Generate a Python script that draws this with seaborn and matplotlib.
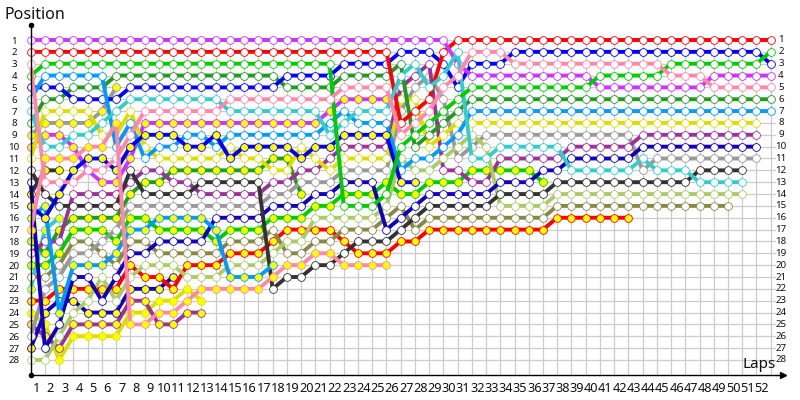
import matplotlib
matplotlib.use('Agg')
import matplotlib.pyplot as plt
import pandas as pd
import seaborn as sns

# running order per lap, first value is the grid slot (column 0)
violet = [1, 1, 1, 1, 1, 1, 1, 1, 1, 1, 1, 1, 1, 1, 1, 1, 1, 1, 1, 1, 1, 1, 1, 1, 1, 1, 1, 1, 1, 1, 3,
          4, 4, 4, 4, 4, 4, 4, 4, 4, 5, 5, 5, 5, 5, 5, 5, 5, 4, 4, 4, 4, 4]
red = [2, 2, 2, 2, 2, 2, 2, 2, 2, 2, 2, 2, 2, 2, 2, 2, 2, 2, 2, 2, 2, 2, 2, 2, 2, 2, 8, 7, 6, 2,
       1, 1, 1, 1, 1, 1, 1, 1, 1, 1, 1, 1, 1, 1, 1, 1, 1, 1, 1, 1, 1, 1, 1]
green = [4, 3, 3, 3, 3, 3, 3, 3, 3, 3, 3, 3, 3, 3, 3, 3, 3, 3, 3, 3, 3, 3, 15, 15, 15, 14, 10, 9, 8, 7, 6,
         5, 5, 5, 5, 5, 5, 5, 5, 5, 4, 4, 4, 4, 4, 3, 3, 3, 3, 3, 3, 3, 2]
pink = [3, 13, 13, 13, 12, 12, 11, 9, 7, 7, 7, 7, 7, 7, 6, 6, 6, 6, 6, 6, 6, 6, 5, 5, 5, 5, 9, 8, 7, 5, 4,
        2, 2, 2, 3, 3, 3, 3, 3, 3, 3, 3, 3, 3, 3, 4, 4, 4, 5, 5, 5, 5, 5]
blue = [5, 5, 5, 6, 6, 6, 6, 5, 5, 5, 5, 5, 5, 5, 5, 5, 5, 5, 4, 4, 4, 4, 3, 3, 3, 3, 2, 2, 2, 3, 5,
        3, 3, 3, 2, 2, 2, 2, 2, 2, 2, 2, 2, 2, 2, 2, 2, 2, 2, 2, 2, 2, 3]
azure = [6, 4, 4, 4, 4, 4, 10, 8, 11, 10, 10, 9, 9, 10, 9, 9, 9, 9, 9, 9, 9, 8, 7, 8, 8, 8, 12, 11, 11, 10, 9,
         7, 7, 7, 7, 7, 7, 7, 7, 7, 7, 7, 7, 7, 7, 7, 7, 7, 7, 7, 7, 7, 7]
cyan = [7, 10, 10, 9, 9, 8, 7, 6, 6, 6, 6, 6, 6, 6, 7, 7, 7, 7, 7, 7, 7, 9, 8, 7, 7, 7, 4, 3, 5, 4, 2,
        11, 11, 10, 10, 10, 10, 10, 12, 12, 12, 12, 12, 11, 12, 12, 12, 13, 13, 13, 13]
dark_green = [8, 6, 6, 5, 5, 5, 4, 4, 4, 4, 4, 4, 4, 4, 4, 4, 4, 4, 5, 5, 5, 5, 4, 4, 4, 4, 3, 10, 9, 8, 7,
              6, 6, 6, 6, 6, 6, 6, 6, 6, 6, 6, 6, 6, 6, 6, 6, 6, 6, 6, 6, 6, 6]
yellow = [11, 7, 7, 7, 7, 9, 9, 7, 10, 11, 11, 11, 11, 11, 10, 11, 11, 12, 12, 10, 11, 12, 11, 11, 11, 11, 6, 6, 10, 9,
          8, 8, 8, 8, 8, 8, 8, 8, 8, 8, 8, 8, 8, 8, 8, 8, 8, 8, 8, 8, 8, 8]
gray = [26, 22, 21, 19, 19, 18, 17, 15, 15, 15, 15, 15, 15, 15, 15, 15, 15, 14, 14, 13, 13, 13, 12, 12, 12, 12, 7, 5, 4, 6, 11, 10,
        9, 9, 9, 9, 9, 9, 9, 9, 9, 9, 9, 12, 11, 11, 11, 11, 11, 11, 11, 11]
purple = [19, 18, 18, 14, 14, 14, 14, 13, 12, 12, 13, 13, 14, 14, 14, 14, 14, 13, 13, 12, 12, 11, 10, 10, 10, 10, 5, 4, 3, 12, 12,
          13, 13, 11, 11, 11, 11, 11, 10, 10, 10, 10, 10, 9, 9, 9, 9, 9, 9, 9, 9, 9]
dark_blue = [13, 27, 25, 21, 21, 23, 21, 19, 19, 18, 18, 18, 18, 16, 16, 16, 16, 15, 15, 15, 14, 14, 13, 13, 13, 17, 16, 15,
             14, 14, 14, 14, 14, 13, 13, 13, 12, 12, 11, 11, 11, 11, 11, 10, 10, 10, 10, 10, 10, 10, 10, 10]
black = [12, 14, 15, 15, 15, 15, 15, 12, 14, 14, 14, 14, 13, 13, 13, 13, 13, 22, 21, 21, 20, 20, 19, 18, 18, 18, 17, 16,
         15, 15, 15, 15, 15, 14, 14, 14, 14, 13, 13, 13, 13, 13, 13, 13, 13, 13, 13, 12, 12, 12, 12]
light_olive = [28, 28, 26, 24, 23, 21, 23, 21, 20, 20, 20, 21, 21, 21, 20, 20, 20, 19, 18, 18, 16, 16, 16, 16, 16, 15, 11, 12, 12, 11, 10, 9, 10,
               15, 15, 15, 15, 14, 14, 14, 14, 14, 14, 14, 14, 14, 14, 14, 14, 14, 14]
olive = [21, 21, 20, 18, 18, 19, 20, 18, 18, 19, 19, 19, 19, 19, 18, 18, 18, 17, 19, 19, 18, 18, 17, 17, 17, 16, 15, 17,
         16, 16, 16, 16, 16, 16, 16, 16, 16, 15, 15, 15, 15, 15, 15, 15, 15, 15, 15, 15, 15, 15]

# same colours again, but the ones drawn with yellow dots
gray_y = [9, 8, 8, 8, 8, 7, 5]
violet_y = [10, 9, 9, 10, 12, 13, 13, 11, 8, 8, 8, 8, 8, 8, 8, 8, 8, 8, 8, 8, 8, 7, 6, 6, 6, 6]
black_y = [14, 12, 12]
blue_y = [15, 16, 14, 12, 11, 11, 12, 10, 9, 9, 9, 10, 10, 9, 11, 10, 10, 10, 10, 11, 10, 10, 9, 9, 9, 9, 13, 13]
azure_y = [16, 15, 24, 20, 20, 20, 19, 17, 17, 16, 16, 16, 16, 17, 21, 21, 21, 20]
pink_y = [17, 11, 11, 11, 10, 10, 8, 25, 25, 24, 24, 23, 22, 22, 22, 22, 22, 21, 20, 20, 19, 19, 20, 20, 20, 20]
dark_green_y = [18, 19, 17, 16, 16, 16, 16, 14, 13, 13, 12, 12, 12, 12, 12, 12, 12, 11, 11, 14]
green_y = [20, 20, 19, 17, 17, 17, 18, 16, 16, 17, 17, 17, 17, 18, 17, 17, 17, 16, 16, 16, 15, 15, 14, 14, 14, 13, 14, 14,
           13, 13, 13, 12, 12, 12, 12, 12, 13]
cyan_y = [22, 17, 16]
red_y = [23, 23, 22, 22, 22, 22, 22, 20, 21, 21, 22, 20, 20, 20, 19, 19, 19, 18, 17, 17, 17, 17, 18, 19, 19, 19, 18, 18,
         17, 17, 17, 17, 17, 17, 17, 17, 17, 16, 16, 16, 16, 16, 16]
yellow_y = [24, 25, 28, 26, 26, 26, 26, 24, 24, 23, 23, 22, 23]
purple_y = [25, 26, 27, 25, 25, 25, 25, 23, 23, 25, 25, 24, 24]
dark_blue_y = [27, 24, 23, 23, 24, 24, 24, 22, 22, 22, 21]

# later entries end up on top
series = [
    (yellow_y, '#DDDD00', True), (purple_y, '#993399', True), (dark_blue_y, '#1100BB', True),
    (red_y, '#FF0000', True), (cyan_y, '#33CCCC', True), (green_y, '#00CC00', True),
    (dark_green_y, '#229922', True), (black_y, '#333333', True), (violet_y, '#CC33FF', True),
    (gray_y, '#999999', True), (olive, '#888844', False), (gray, '#999999', False),
    (purple, '#993399', False), (light_olive, '#AACC66', False), (yellow, '#DDDD00', False),
    (dark_green, '#229922', False), (blue, '#0000FF', False),
    (red, '#FF0000', False), (violet, '#CC33FF', False), (dark_blue, '#1100BB', False),
    (black, '#333333', False), (azure, '#0099FF', False), (azure_y, '#0099FF', True),
    (blue_y, '#0000EE', True), (cyan, '#33CCCC', False), (green, '#00CC00', False),
    (pink, '#FF88AA', False), (pink_y, '#FF88AA', True),
]

sns.set_theme(style='white')
plt.rcParams['font.family'] = ['Noto Sans', 'DejaVu Sans']

fig = plt.figure(figsize=(8, 4), dpi=100)
ax = fig.add_axes([30.7 / 800, 25 / 400, (776 - 30.7) / 800, 350 / 400])
ax.set_xlim(0, (776 - 30.7) / 14.23)
ax.set_ylim((375 - 40) / 11.85 + 1, (25 - 40) / 11.85 + 1)

# grid only spans the rows and columns, not the space above row 1
ymax = ax.get_ylim()[0]
xmax = ax.get_xlim()[1]
ax.vlines(range(53), 1, ymax, color='#CCCCCC', linewidth=0.9, zorder=0)
ax.hlines(range(1, 29), 0, xmax, color='#CCCCCC', linewidth=0.9, zorder=0)

for pos, colour, filled in series:
    df = pd.DataFrame({'lap': range(len(pos)), 'pos': pos})
    sns.lineplot(data=df, x='lap', y='pos', color=colour, linewidth=2.8, marker='o', markersize=5.6,
                 markerfacecolor='#FFFF00' if filled else 'white', markeredgecolor=colour,
                 markeredgewidth=0.6, sort=False, errorbar=None, ax=ax, clip_on=False)

ax.set_xlabel('')
ax.set_ylabel('')
ax.set_xticks([k - 1 + 0.39 for k in range(1, 53)])
ax.set_xticklabels([str(k) for k in range(1, 53)], fontsize=9.2, color='#111111')
ax.set_yticks(range(1, 29))
ax.set_yticklabels([str(k) for k in range(1, 29)], fontsize=7, color='#111111', ha='center')
ax.tick_params(axis='x', length=0, pad=5)
ax.tick_params(axis='y', length=0, pad=11.9)

for spine in ['top', 'right']:
    ax.spines[spine].set_visible(False)
for spine in ['left', 'bottom']:
    ax.spines[spine].set_color('black')
    ax.spines[spine].set_linewidth(1.0)

for k in range(1, 29):
    ax.annotate(str(k), (1, k), xycoords=ax.get_yaxis_transform(), xytext=(3.6, 0), textcoords='offset points',
                fontsize=7, color='#111111', ha='center', va='center')

ax.plot([0], [1], marker='o', ms=3, color='black', transform=ax.transAxes, clip_on=False)
ax.plot([0], [0], marker='o', ms=3, color='black', transform=ax.transAxes, clip_on=False)
ax.plot([1.01], [0], marker='>', ms=5, color='black', transform=ax.transAxes, clip_on=False)
ax.plot([1, 1.01], [0, 0], color='black', lw=1, transform=ax.transAxes, clip_on=False)

fig.text(4 / 800, 1 - 15 / 400, 'Position', fontsize=11.5, color='#111111', ha='left', va='center')
fig.text(742 / 800, 1 - 365 / 400, 'Laps', fontsize=11, color='#111111', ha='left', va='center')

fig.savefig('out.png', dpi=100)
